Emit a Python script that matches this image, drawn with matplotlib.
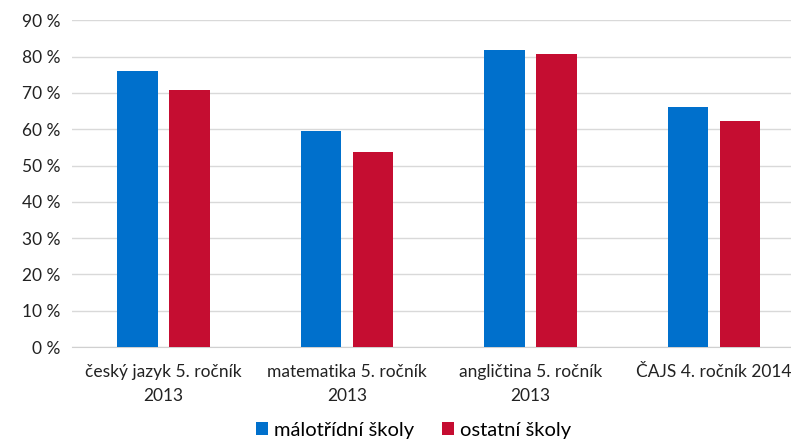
import matplotlib
matplotlib.use('Agg')
import matplotlib.pyplot as plt
import numpy as np

categories = ['český jazyk 5. ročník\n2013', 'matematika 5. ročník\n2013',
              'angličtina 5. ročník\n2013', 'ČAJS 4. ročník 2014']
malotridni = [75.9, 59.4, 81.8, 66.1]
ostatni = [70.7, 53.7, 80.8, 62.3]
series_names = ['málotřídní školy', 'ostatní školy']

plt.rcParams['font.family'] = ['Lato', 'DejaVu Sans']

fig = plt.figure(figsize=(7.91, 4.41), dpi=100)
ax = fig.add_axes([0.091, 0.213, 0.909, 0.741])

x = np.arange(len(categories))
w = 0.222
off = 0.142
ax.bar(x - off, malotridni, w, color='#0070cc', label=series_names[0], zorder=3)
ax.bar(x + off, ostatni, w, color='#c50d31', label=series_names[1], zorder=3)

ax.set_xlim(-0.499, 3.42)
ax.set_ylim(0, 90)
ax.set_yticks(np.arange(0, 91, 10))
ax.set_yticklabels(['%d %%' % v for v in range(0, 91, 10)], fontsize=12.5)
ax.set_xticks(x)
ax.set_xticklabels(categories, fontsize=12.5, linespacing=1.6)
ax.tick_params(axis='both', length=0, colors='#222222')
ax.tick_params(axis='x', pad=12)
ax.tick_params(axis='y', pad=8)
ax.yaxis.grid(True, color='#d9d9d9', linewidth=1, zorder=0)
for s in ['top', 'right', 'left']:
    ax.spines[s].set_visible(False)
ax.spines['bottom'].set_color('#d0d0d0')

fig.legend(loc='center', bbox_to_anchor=(0.523, 0.024), ncol=2, frameon=False,
           fontsize=14.5, handlelength=0.6, handleheight=0.6, handletextpad=0.3,
           columnspacing=1.4)

fig.savefig('out.png', dpi=100)
